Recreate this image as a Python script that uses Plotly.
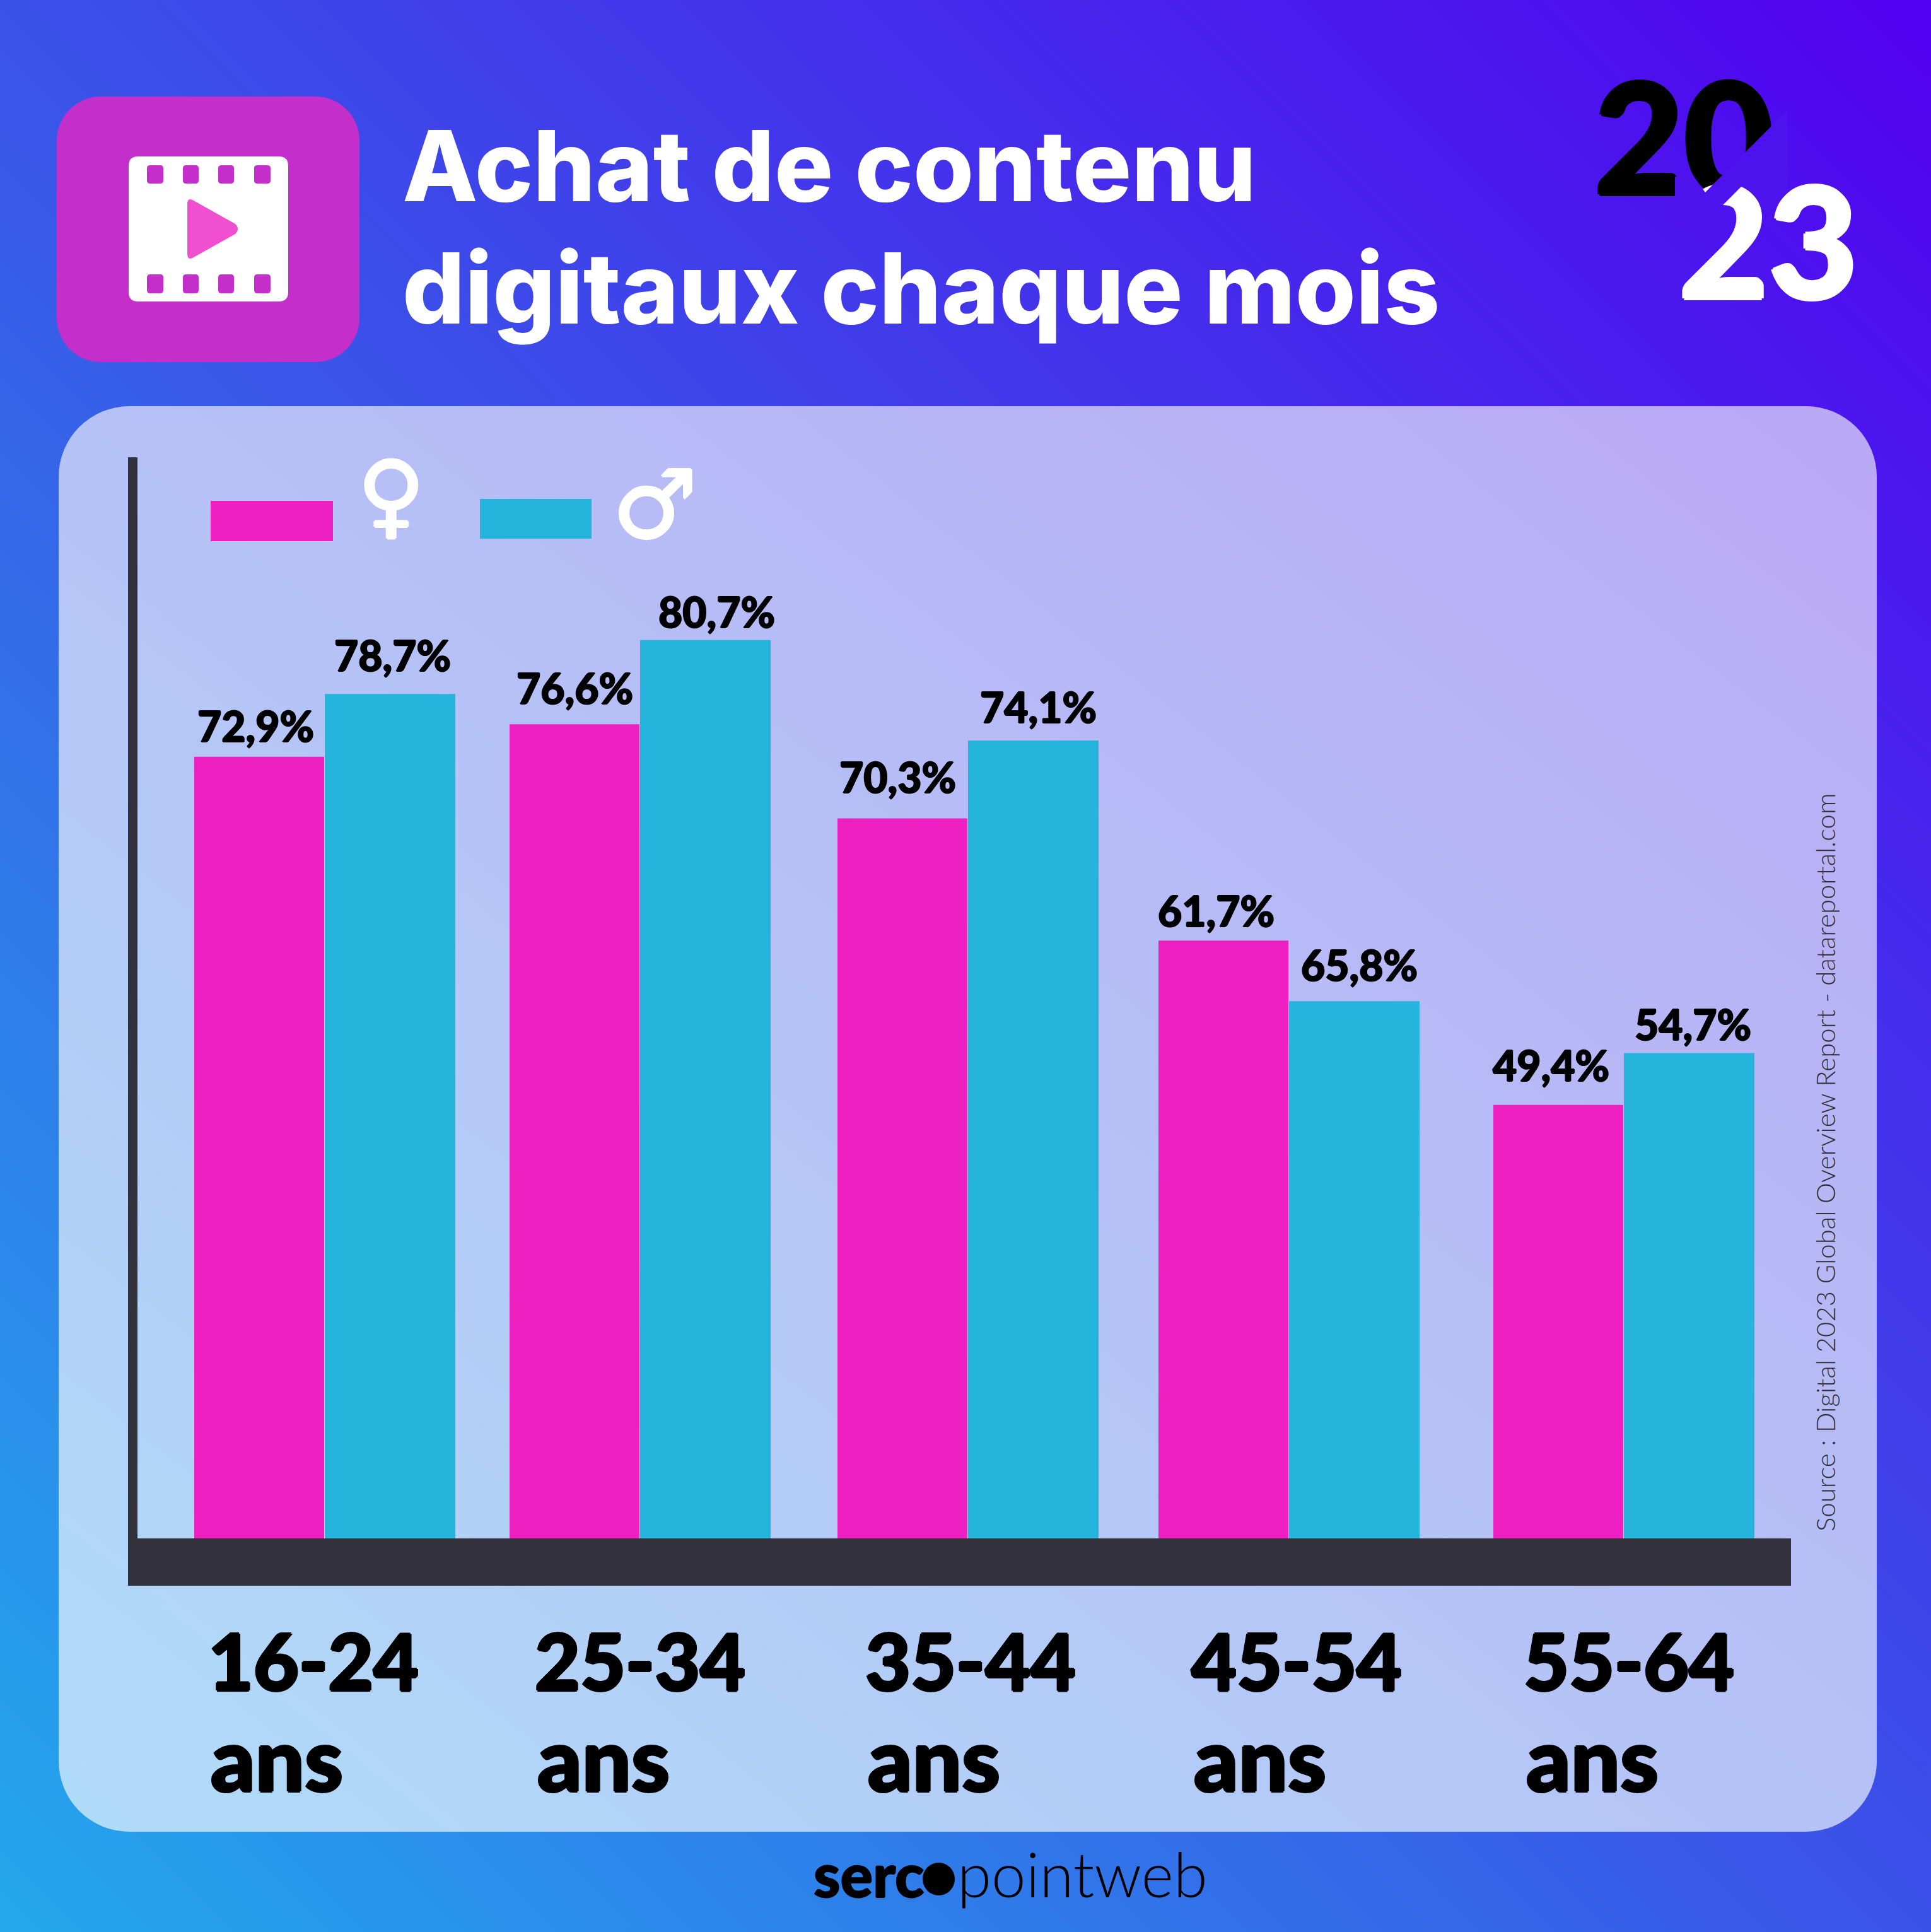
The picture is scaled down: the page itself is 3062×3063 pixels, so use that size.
import base64
import plotly.graph_objects as go

W, H = 3062, 3063

categories = ["16-24", "25-34", "35-44", "45-54", "55-64"]
label_women = ["72,9%", "76,6%", "70,3%", "61,7%", "49,4%"]
label_men = ["78,7%", "80,7%", "74,1%", "65,8%", "54,7%"]
# the bars in the source are not drawn to the printed percentages,
# so the drawn heights are read off the picture separately
height_women = [72.3, 75.3, 66.6, 55.3, 40.1]
height_men = [78.1, 83.1, 73.8, 49.7, 44.9]
# the groups are not evenly spaced either
group_x = [515, 1015, 1535, 2044, 2575]
cat_label_x = [328, 846, 1370, 1887, 2414]
# hand placed labels in the source, nudges from the bar centre / bar top
women_dx = [-6, 0, -8, -12, -12]
women_dy = [8, 16, 24, 6, 22]
men_dx = [4, 18, 8, 8, 6]
men_dy = [20, 4, 12, 16, 4]

PINK = "#ef20c1"
TEAL = "#25b5dc"
DARK = "#33323c"
CUT = "#4e12ee"
ICON = "#c42ecb"
BAR_W = 207
FONT = "Lato Black"

svg = f"""<svg xmlns="http://www.w3.org/2000/svg" width="{W}" height="{H}" viewBox="0 0 {W} {H}">
<defs>
<linearGradient id="bg" x1="0" y1="1" x2="1" y2="0">
<stop offset="0" stop-color="#23a8ec"/><stop offset="0.5" stop-color="#3a52e8"/><stop offset="1" stop-color="#5200f0"/>
</linearGradient>
<linearGradient id="panel" x1="0" y1="1" x2="1" y2="0">
<stop offset="0" stop-color="#b0dcf8"/><stop offset="0.5" stop-color="#b5c2f6"/><stop offset="1" stop-color="#baa8f5"/>
</linearGradient>
</defs>
<rect width="{W}" height="{H}" fill="url(#bg)"/>
<rect x="93" y="644" width="2883" height="2260" rx="112" fill="url(#panel)"/>
<rect x="90" y="153" width="480" height="421" rx="70" fill="{ICON}"/>
</svg>"""
bg_uri = "data:image/svg+xml;base64," + base64.b64encode(svg.encode()).decode()


def fat(color, w):
    return f"{w}px 0 0 {color}, -{w}px 0 0 {color}, 0 {w}px 0 {color}, 0 -{w}px 0 {color}"


fig = go.Figure()

fig.add_trace(go.Bar(x=group_x, y=height_women, width=BAR_W - 1, offset=-BAR_W,
                     marker=dict(color=PINK, line_width=0), showlegend=False))
fig.add_trace(go.Bar(x=group_x, y=height_men, width=BAR_W, offset=0,
                     marker=dict(color=TEAL, line_width=0), showlegend=False))


def year_text(txt, x, y, color):
    return go.Scatter(x=[x], y=[y], mode="text", text=[txt], xaxis="x2", yaxis="y2",
                      textposition="middle center", showlegend=False,
                      textfont=dict(family=FONT, size=245, color=color, shadow=fat(color, 3)))


def cut_poly(xs, ys):
    return go.Scatter(x=xs, y=ys, mode="lines", fill="toself", fillcolor=CUT, line_width=0,
                      xaxis="x2", yaxis="y2", showlegend=False)


fig.add_trace(year_text("20", 2670, 247, "black"))
fig.add_trace(cut_poly([2835, 2670, 2835], [174, 339, 339]))
fig.add_trace(year_text("23", 2804, 412, "white"))
fig.add_trace(cut_poly([2775, 2700, 2656, 2656, 2686, 2704, 2727],
                       [282, 357, 357, 280, 280, 305, 282]))


def rrect(x0, y0, x1, y1, r):
    return (f"M{x0 + r},{y0} H{x1 - r} Q{x1},{y0} {x1},{y0 + r} V{y1 - r} Q{x1},{y1} {x1 - r},{y1} "
            f"H{x0 + r} Q{x0},{y1} {x0},{y1 - r} V{y0 + r} Q{x0},{y0} {x0 + r},{y0} Z")


def px_path(path, color):
    return dict(type="path", xref="x2", yref="y2", path=path, fillcolor=color, line_width=0, layer="above")


def px_rect(x0, y0, x1, y1, color):
    return dict(type="rect", xref="x2", yref="y2", x0=x0, y0=y0, x1=x1, y1=y1,
                fillcolor=color, line_width=0, layer="above")


shapes = [
    px_rect(334, 794, 528, 858, PINK),
    px_rect(761, 791, 938, 854, TEAL),
    px_path(rrect(204, 248, 457, 478, 15), "white"),
    px_path("M297,324 Q297,312 307,318 L373,355 Q381,363 373,371 L307,408 Q297,414 297,402 Z", "#f050d0"),
    dict(type="circle", xref="x2", yref="y2", x0=1463, y0=2953, x1=1514, y1=3005,
         fillcolor="black", line_width=0, layer="above"),
]
for hx0, hx1 in [(233, 259), (290, 315), (346, 371), (403, 429)]:
    shapes.append(px_path(rrect(hx0, 262, hx1, 291, 5), ICON))
    shapes.append(px_path(rrect(hx0, 435, hx1, 465, 5), ICON))

annotations = []


def note(text, x, y, size, color="black", family=FONT, weight=None, xanchor="left", shadow=None, **kw):
    annotations.append(dict(text=text, x=x, y=y, xref="x2", yref="y2", showarrow=False,
                            xanchor=xanchor, yanchor="middle",
                            font=dict(family=family, size=size, color=color, weight=weight, shadow=shadow), **kw))


note("Achat de contenu", 636, 262, 155.5, "white", "Inter", 800)
note("digitaux chaque mois", 636, 456, 155.5, "white", "Inter", 800)

for cat, x in zip(categories, cat_label_x):
    note(cat, x, 2632, 124, shadow=fat("black", 2))
    note("ans", x + 4, 2786, 138, shadow=fat("black", 2))

for i, x in enumerate(group_x):
    annotations.append(dict(text=label_women[i], x=x - BAR_W / 2, y=height_women[i], xref="x", yref="y",
                            showarrow=False, yanchor="bottom", xshift=women_dx[i], yshift=women_dy[i],
                            font=dict(family=FONT, size=66, color="black", shadow=fat("black", 1))))
    annotations.append(dict(text=label_men[i], x=x + BAR_W / 2, y=height_men[i], xref="x", yref="y",
                            showarrow=False, yanchor="bottom", xshift=men_dx[i], yshift=men_dy[i],
                            font=dict(family=FONT, size=66, color="black", shadow=fat("black", 1))))

note("♀", 620, 784, 146, "white", "DejaVu Sans", 700, xanchor="center", shadow=fat("white", 2))
note("♂", 1038, 800, 150, "white", "DejaVu Sans", 700, xanchor="center", shadow=fat("white", 2))
note("Source : Digital 2023 Global Overview Report - datareportal.com", 2894, 1843, 42,
     DARK, "Lato", 300, xanchor="center", textangle=-90)
note("serc", 1467, 2970, 96, shadow=fat("black", 1), xanchor="right")
note("pointweb", 1516, 2970, 98, "black", "Lato", 300, xanchor="left")

fig.update_layout(
    width=W, height=H, margin=dict(l=0, r=0, t=0, b=0),
    paper_bgcolor="rgba(0,0,0,0)", plot_bgcolor="rgba(0,0,0,0)",
    images=[dict(source=bg_uri, xref="paper", yref="paper", x=0, y=1, sizex=1, sizey=1,
                 xanchor="left", yanchor="top", sizing="stretch", layer="below")],
    shapes=shapes, annotations=annotations, barmode="overlay",
    xaxis=dict(domain=[218 / W, 2840 / W], range=[218, 2840], showline=True, linecolor=DARK, linewidth=75,
               showticklabels=False, ticks="", showgrid=False, zeroline=False),
    yaxis=dict(domain=[1 - 2439 / H, 1 - 725 / H], range=[0, 100], showline=True, linecolor=DARK, linewidth=15,
               showticklabels=False, ticks="", showgrid=False, zeroline=False),
    xaxis2=dict(domain=[0, 1], range=[0, W], visible=False, anchor="y2"),
    yaxis2=dict(domain=[0, 1], range=[H, 0], visible=False, anchor="x2"),
)

fig.write_html("out.html", config=dict(displayModeBar=False),
               post_script="document.body.style.margin='0';document.body.style.overflow='hidden';")
